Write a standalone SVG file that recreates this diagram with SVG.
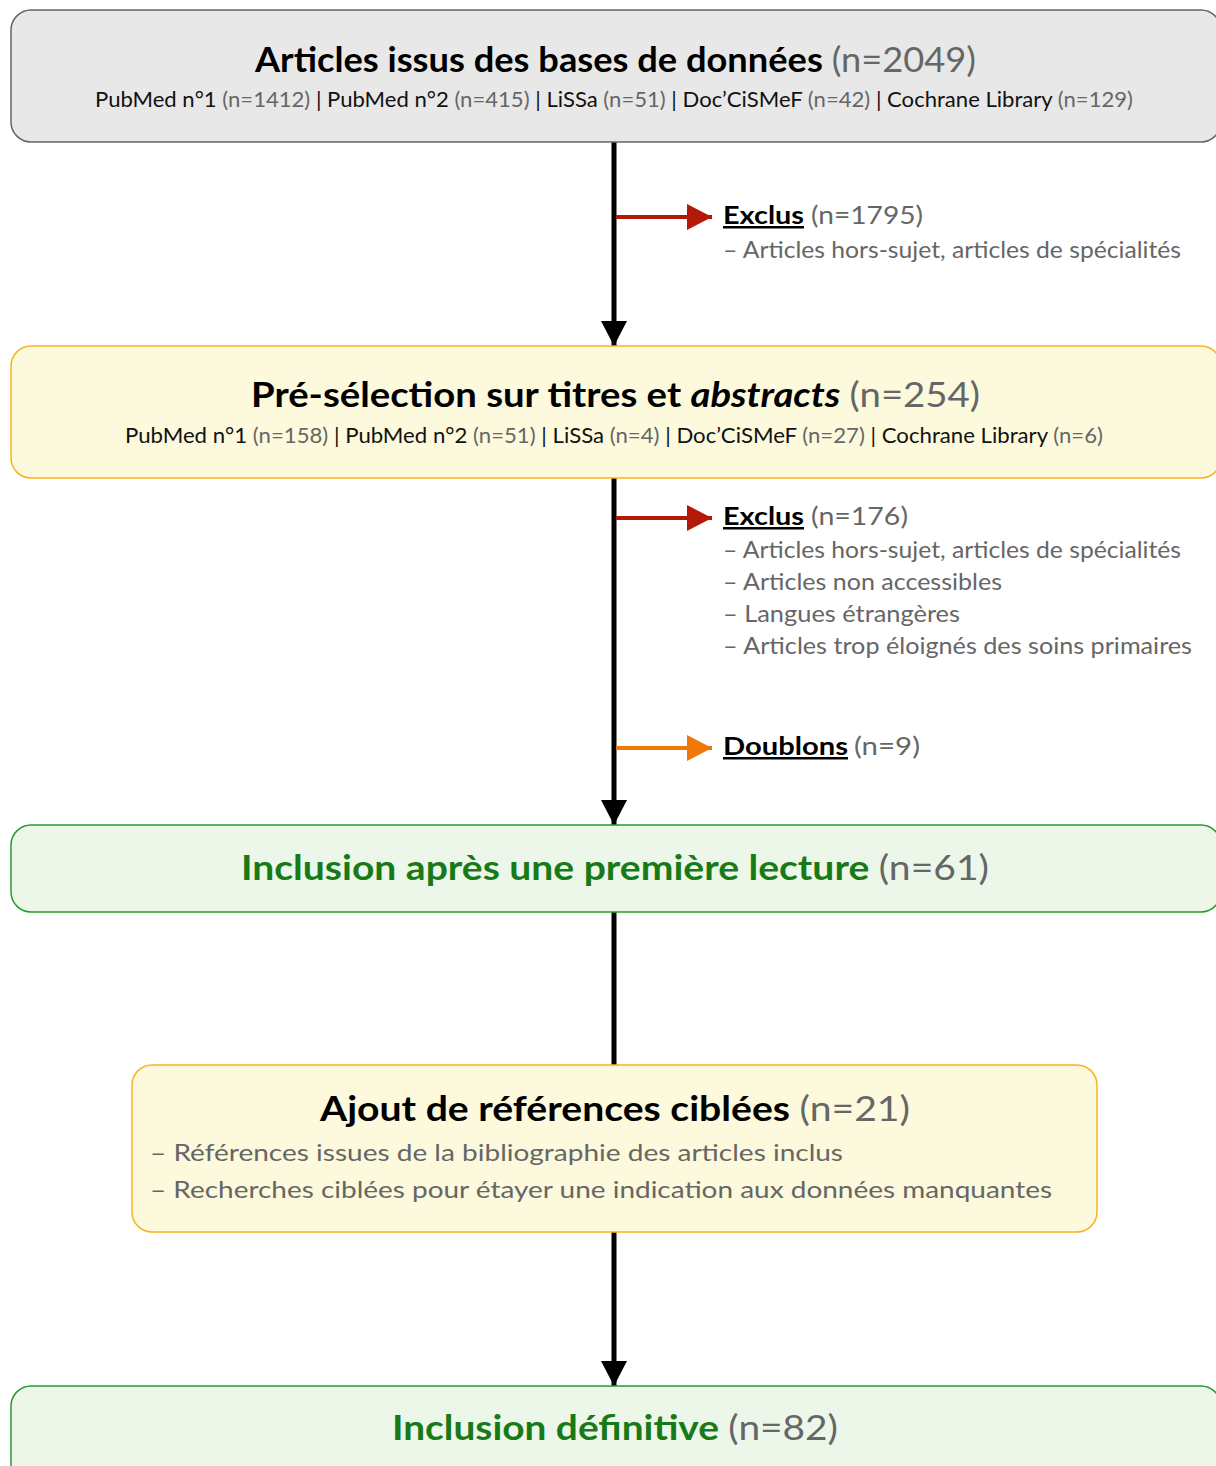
<svg xmlns="http://www.w3.org/2000/svg" width="1216" height="1466" viewBox="0 0 1216 1466">
<style>
text{font-family:Lato,"Noto Sans","Liberation Sans",sans-serif;}
.t{font-size:34px;font-weight:700;fill:#000;}
.g{fill:#666;font-weight:400;}
.s{font-size:21px;fill:#111;}
.l{font-size:23px;fill:#666;}
.h{font-size:25px;font-weight:700;fill:#000;text-decoration:underline;}
.n{font-size:25px;fill:#666;}
.grn{fill:#177a17;}
.gray{fill:#e8e8e8;stroke:#666;stroke-width:1.5;}
.yel{fill:#fcf9dc;stroke:#f7b41c;stroke-width:1.5;}
.green{fill:#ecf7ea;stroke:#2a9a2a;stroke-width:1.5;}
.v{stroke:#000;stroke-width:5;fill:none;}
</style>
<defs>
<marker id="ah" markerUnits="userSpaceOnUse" markerWidth="26" markerHeight="26" refX="25" refY="13" orient="auto"><path d="M0,0 L25,13 L0,26 Z" fill="#000"/></marker>
<marker id="ar" markerUnits="userSpaceOnUse" markerWidth="26" markerHeight="26" refX="25" refY="13" orient="auto"><path d="M0,0 L25,13 L0,26 Z" fill="#b3190b"/></marker>
<marker id="ao" markerUnits="userSpaceOnUse" markerWidth="26" markerHeight="26" refX="25" refY="13" orient="auto"><path d="M0,0 L25,13 L0,26 Z" fill="#f07808"/></marker>
</defs>
<g id="connectors">
<line class="v" x1="614" y1="142" x2="614" y2="346" marker-end="url(#ah)"/>
<line class="v" x1="614" y1="478" x2="614" y2="825" marker-end="url(#ah)"/>
<line class="v" x1="614" y1="912" x2="614" y2="1065"/>
<line class="v" x1="614" y1="1232" x2="614" y2="1386" marker-end="url(#ah)"/>
<line x1="616" y1="217" x2="712" y2="217" stroke="#b3190b" stroke-width="4" marker-end="url(#ar)"/>
<line x1="616" y1="518" x2="712" y2="518" stroke="#b3190b" stroke-width="4" marker-end="url(#ar)"/>
<line x1="616" y1="748" x2="712" y2="748" stroke="#f07808" stroke-width="4" marker-end="url(#ao)"/>
</g>
<g id="n1">
<rect class="gray" x="11" y="10" width="1210" height="132" rx="20"/>
<text class="t" x="255" y="72" textLength="721" lengthAdjust="spacingAndGlyphs">Articles issus des bases de données <tspan class="g">(n=2049)</tspan></text>
<text class="s" x="95" y="107" textLength="1038" lengthAdjust="spacingAndGlyphs">PubMed n°1 <tspan class="g">(n=1412)</tspan> | PubMed n°2 <tspan class="g">(n=415)</tspan> | LiSSa <tspan class="g">(n=51)</tspan> | Doc’CiSMeF <tspan class="g">(n=42)</tspan> | Cochrane Library <tspan class="g">(n=129)</tspan></text>
</g>
<g id="ex1">
<text class="h" x="723" y="224" textLength="81" lengthAdjust="spacingAndGlyphs">Exclus</text>
<text class="n" x="811" y="224" textLength="112" lengthAdjust="spacingAndGlyphs">(n=1795)</text>
<text class="l" x="723" y="258" textLength="458" lengthAdjust="spacingAndGlyphs">– Articles hors-sujet, articles de spécialités</text>
</g>
<g id="n2">
<rect class="yel" x="11" y="346" width="1210" height="132" rx="20"/>
<text class="t" x="251" y="407" textLength="729" lengthAdjust="spacingAndGlyphs">Pré-sélection sur titres et <tspan font-style="italic">abstracts</tspan> <tspan class="g">(n=254)</tspan></text>
<text class="s" x="125" y="443" textLength="978" lengthAdjust="spacingAndGlyphs">PubMed n°1 <tspan class="g">(n=158)</tspan> | PubMed n°2 <tspan class="g">(n=51)</tspan> | LiSSa <tspan class="g">(n=4)</tspan> | Doc’CiSMeF <tspan class="g">(n=27)</tspan> | Cochrane Library <tspan class="g">(n=6)</tspan></text>
</g>
<g id="ex2">
<text class="h" x="723" y="525" textLength="81" lengthAdjust="spacingAndGlyphs">Exclus</text>
<text class="n" x="811" y="525" textLength="97" lengthAdjust="spacingAndGlyphs">(n=176)</text>
<text class="l" x="723" y="558" textLength="458" lengthAdjust="spacingAndGlyphs">– Articles hors-sujet, articles de spécialités</text>
<text class="l" x="723" y="590" textLength="279" lengthAdjust="spacingAndGlyphs">– Articles non accessibles</text>
<text class="l" x="723" y="622" textLength="237" lengthAdjust="spacingAndGlyphs">– Langues étrangères</text>
<text class="l" x="723" y="654" textLength="469" lengthAdjust="spacingAndGlyphs">– Articles trop éloignés des soins primaires</text>
</g>
<g id="dbl">
<text class="h" x="723" y="755" textLength="125" lengthAdjust="spacingAndGlyphs">Doublons</text>
<text class="n" x="854" y="755" textLength="66" lengthAdjust="spacingAndGlyphs">(n=9)</text>
</g>
<g id="n3">
<rect class="green" x="11" y="825" width="1210" height="87" rx="20"/>
<text class="t" x="241" y="880" textLength="748" lengthAdjust="spacingAndGlyphs"><tspan class="grn">Inclusion après une première lecture</tspan> <tspan class="g">(n=61)</tspan></text>
</g>
<g id="n4">
<rect class="yel" x="132" y="1065" width="965" height="167" rx="20"/>
<text class="t" x="320" y="1121" textLength="590" lengthAdjust="spacingAndGlyphs">Ajout de références ciblées <tspan class="g">(n=21)</tspan></text>
<text class="l" x="150" y="1161" font-size="25" textLength="693" lengthAdjust="spacingAndGlyphs">– Références issues de la bibliographie des articles inclus</text>
<text class="l" x="150" y="1198" font-size="25" textLength="902" lengthAdjust="spacingAndGlyphs">– Recherches ciblées pour étayer une indication aux données manquantes</text>
</g>
<g id="n5">
<rect class="green" x="11" y="1386" width="1210" height="120" rx="20"/>
<text class="t" x="392" y="1440" textLength="446" lengthAdjust="spacingAndGlyphs"><tspan class="grn">Inclusion définitive</tspan> <tspan class="g">(n=82)</tspan></text>
</g>
</svg>
